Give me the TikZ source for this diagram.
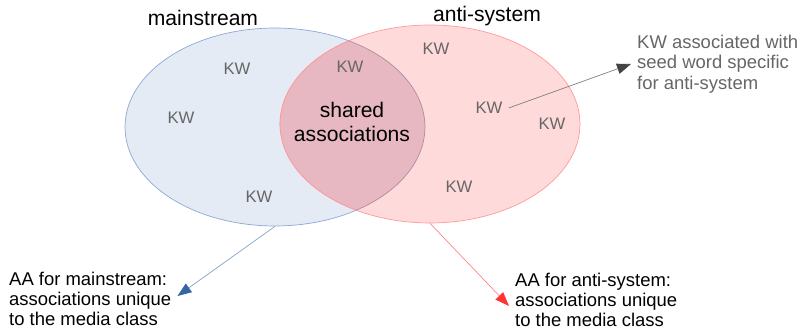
\documentclass[tikz,border=0pt]{standalone}
\usepackage{fontspec}
\setmainfont{Liberation Sans}
\usetikzlibrary{shapes.geometric,arrows.meta}

\definecolor{mainfill}{HTML}{E4EBF5}
\definecolor{mainline}{HTML}{8EA8D6}
\definecolor{antifill}{HTML}{FFDADA}
\definecolor{antiline}{HTML}{FF9A9A}
\definecolor{sharedfill}{HTML}{E7B8C2}
\definecolor{sharedline}{HTML}{B08CA0}
\definecolor{kwgray}{HTML}{666666}
\definecolor{notearrow}{HTML}{444444}
\definecolor{mainarrow}{HTML}{3465A4}
\definecolor{antiarrow}{HTML}{FF3333}

\tikzset{
    venn/.style={ellipse, inner sep=0pt, minimum width=6cm, minimum height=3.96cm},
    kwlabel/.style={text=kwgray, font=\fontsize{9.5}{11}\selectfont},
    setlabel/.style={font=\fontsize{12}{14}\selectfont},
    notetext/.style={anchor=west, align=left, font=\fontsize{10.5}{11.6}\selectfont},
}

\begin{document}
\begin{tikzpicture}[x=0.02cm, y=-0.02cm]
    \useasboundingbox (0, 0) rectangle (802, 330);

    \node[venn, fill=mainfill, draw=mainline, thin] (mainstream) at (275, 127) {};
    \node[venn, fill=antifill, draw=antiline, thin] (antisystem) at (430, 124) {};

    \begin{scope}
        \clip (275, 127) ellipse [x radius=3cm, y radius=1.98cm];
        \fill[sharedfill] (430, 124) ellipse [x radius=3cm, y radius=1.98cm];
        \draw[antiline, thin] (430, 124) ellipse [x radius=3cm, y radius=1.98cm];
    \end{scope}
    \begin{scope}
        \clip (430, 124) ellipse [x radius=3cm, y radius=1.98cm];
        \draw[sharedline, thin] (275, 127) ellipse [x radius=3cm, y radius=1.98cm];
    \end{scope}

    \node[setlabel] (mainTitle) at (203, 18) {mainstream};
    \node[setlabel] (antiTitle) at (487, 16) {anti-system};
    \node[setlabel, align=center] (shared) at (352, 122) {shared\\associations};

    \node[kwlabel] (kwA) at (237, 69) {KW};
    \node[kwlabel] (kwB) at (181, 118) {KW};
    \node[kwlabel] (kwC) at (259, 197) {KW};
    \node[kwlabel] (kwD) at (350, 67) {KW};
    \node[kwlabel] (kwE) at (436, 49) {KW};
    \node[kwlabel] (kwF) at (489, 108) {KW};
    \node[kwlabel] (kwG) at (552, 124) {KW};
    \node[kwlabel] (kwH) at (459, 187) {KW};

    \node[notetext, text=kwgray] (kwNote) at (631, 64) {KW associated with\\seed word specific\\for anti-system};
    \node[notetext] (aaMain) at (3, 299) {AA for mainstream:\\associations unique\\to the media class};
    \node[notetext] (aaAnti) at (509, 300) {AA for anti-system:\\associations unique\\to the media class};

    \draw[gray, thin, -{Triangle[length=8pt, width=6pt, color=notearrow]}] (kwF.east) -- (kwNote.west);
    \draw[mainarrow!60, thin, -{Triangle[length=8pt, width=6pt, color=mainarrow]}] (mainstream.south) -- (aaMain.east |- 0, 296);
    \draw[antiarrow!60, thin, -{Triangle[length=8pt, width=6pt, color=antiarrow]}] (antisystem.south) -- (aaAnti.west |- 0, 306);
\end{tikzpicture}
\end{document}
